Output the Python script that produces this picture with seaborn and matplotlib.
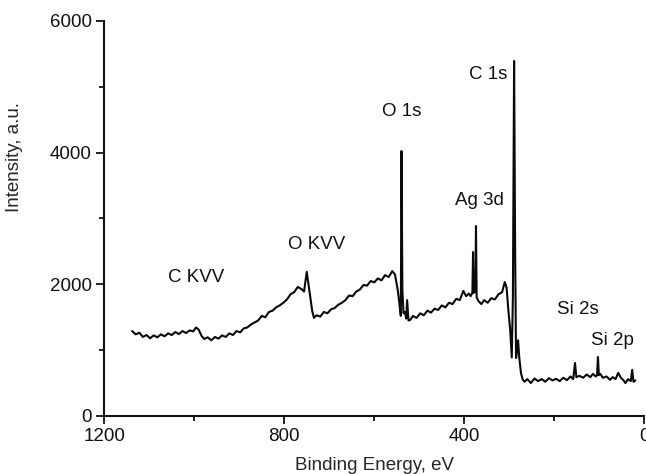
import matplotlib
matplotlib.use("Agg")
import matplotlib.pyplot as plt
from matplotlib.ticker import MultipleLocator
import pandas as pd
import seaborn as sns

# survey spectrum (eV, counts)
binding_energy = [
    1138, 1130, 1122, 1114, 1106, 1098, 1090, 1082, 1074, 1066, 1058, 1050,
    1042, 1034, 1026, 1018, 1010, 1002, 996, 990, 984, 978, 970, 962, 954,
    946, 938, 930, 922, 914, 906, 898, 890, 882, 874, 866, 858, 850, 842,
    834, 826, 818, 810, 802, 794, 786, 778, 770, 762, 756, 750, 746, 742,
    738, 734, 728, 720, 712, 704, 696, 688, 680, 672, 664, 656, 648, 640,
    632, 624, 616, 608, 600, 592, 584, 576, 568, 560, 554, 548, 544, 541,
    539.5, 537.5, 535, 532, 529, 527, 524, 520, 514, 506, 498, 490, 482,
    474, 466, 458, 450, 442, 434, 426, 418, 410, 402, 396, 390, 386, 382,
    380.5, 379, 377.5, 375.5, 374, 372.5, 368, 362, 356, 348, 340, 332,
    324, 316, 310, 306, 302, 298, 294.5, 292, 289.3, 287, 285, 282.5,
    280.5, 278, 274, 270, 266, 260, 252, 244, 236, 228, 220, 212, 204, 196,
    188, 180, 172, 164, 158, 154, 151, 144, 136, 128, 120, 114, 108, 105,
    103, 101, 98, 92, 84, 76, 70, 64, 58, 52, 46, 42, 36, 30, 27, 24, 20,
]
intensity = [
    1290, 1240, 1265, 1200, 1230, 1180, 1225, 1195, 1240, 1210, 1255, 1230,
    1275, 1245, 1290, 1260, 1300, 1285, 1345, 1310, 1220, 1170, 1195, 1150, 1200,
    1175, 1225, 1200, 1255, 1230, 1290, 1270, 1330, 1345, 1390, 1420, 1450, 1520, 1500,
    1580, 1600, 1650, 1680, 1720, 1770, 1850, 1880, 1960, 1930, 1890, 2190, 2000, 1800,
    1600, 1490, 1530, 1510, 1580, 1560, 1620, 1640, 1690, 1720, 1760, 1830, 1820, 1890,
    1920, 1990, 1980, 2050, 2030, 2090, 2060, 2140, 2110, 2200, 2150, 1920, 1700, 1520,
    4025, 1900, 1560, 1580, 1480, 1760, 1450, 1460, 1520, 1490, 1560, 1530, 1600,
    1570, 1630, 1610, 1680, 1650, 1720, 1700, 1780, 1760, 1900, 1820, 1860, 1820, 1870,
    2490, 1870, 1900, 1880, 2886, 1800, 1740, 1700, 1760, 1720, 1790, 1770,
    1850, 1880, 2035, 1950, 1600, 1306, 890, 1800, 5393, 2500, 880, 1000,
    1150, 900, 650, 550, 520, 560, 500, 570, 530, 560, 520, 575, 540, 565,
    530, 580, 545, 600, 560, 805, 590, 610, 580, 630, 590, 640, 600, 620,
    896, 620, 640, 580, 600, 550, 590, 560, 655, 580, 540, 500, 560, 530, 700, 520, 540,
]

peak_names = ["C KVV", "O KVV", "O 1s", "C 1s", "Ag 3d", "Si 2s", "Si 2p"]
peak_label_x = [996, 729, 538, 347, 366, 148, 70]
peak_label_y = [2100, 2600, 4620, 5180, 3280, 1610, 1150]

df = pd.DataFrame({"energy": binding_energy, "counts": intensity})

sns.set_style("ticks")
plt.rcParams["font.family"] = ["Liberation Sans", "DejaVu Sans"]

fig = plt.figure(figsize=(6.46, 4.74), dpi=100)
ax = fig.add_axes([0.1613, 0.1224, 0.8361, 0.8333])

sns.lineplot(data=df, x="energy", y="counts", sort=False, color="#0a0a0a",
             linewidth=1.5, ax=ax)

for name, lx, ly in zip(peak_names, peak_label_x, peak_label_y):
    ax.text(lx, ly, name, ha="center", va="center", fontsize=13.5, color="#111111")

ax.set_xlim(1200, 0)
ax.set_ylim(0, 6000)
ax.xaxis.set_major_locator(MultipleLocator(400))
ax.xaxis.set_minor_locator(MultipleLocator(200))
ax.yaxis.set_major_locator(MultipleLocator(2000))
ax.yaxis.set_minor_locator(MultipleLocator(1000))

sns.despine(ax=ax)
for side in ["left", "bottom"]:
    ax.spines[side].set_linewidth(1.5)
    ax.spines[side].set_color("#111111")
ax.tick_params(which="major", direction="out", length=6, width=1.3,
               labelsize=13.5, pad=3, colors="#111111")
ax.tick_params(which="minor", direction="out", length=3.5, width=1.3,
               colors="#111111")

ax.set_xlabel("Binding Energy, eV", fontsize=13.5, labelpad=8)
ax.set_ylabel("Intensity, a.u.", fontsize=13.5)
ax.yaxis.set_label_coords(-0.150, 0.656)
ax.grid(False)

fig.savefig("out.png", dpi=100)
